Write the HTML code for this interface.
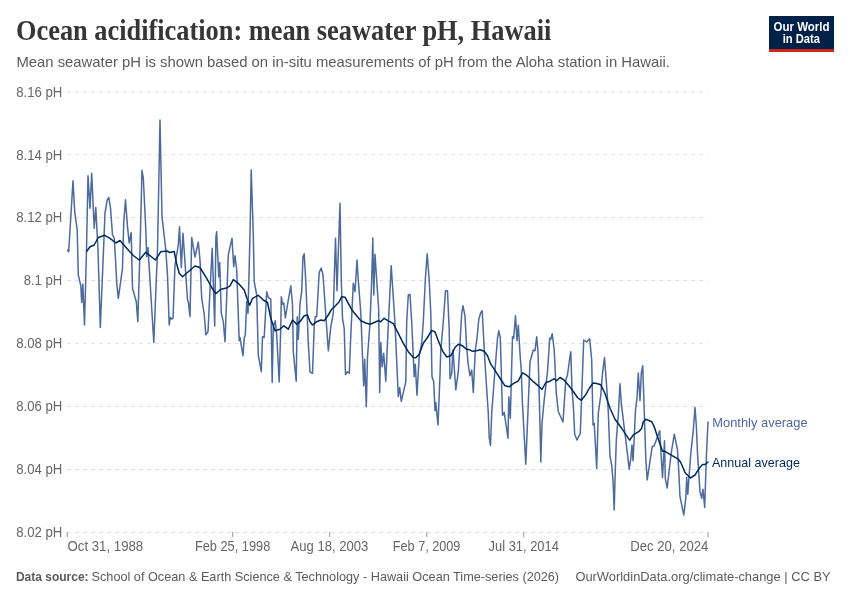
<!DOCTYPE html>
<html><head><meta charset="utf-8"><title>Ocean acidification: mean seawater pH, Hawaii</title>
<style>
html,body{margin:0;padding:0;background:#fff;}
body{width:850px;height:600px;overflow:hidden;}
svg{display:block;font-family:"Liberation Sans",sans-serif;will-change:transform;}
text{white-space:pre;}
</style></head><body>
<svg width="850" height="600" viewBox="0 0 850 600">
<rect width="850" height="600" fill="#ffffff"/>
<line x1="67.1" y1="92.0" x2="708" y2="92.0" stroke="#dedede" stroke-width="1" stroke-dasharray="4,4"/>
<line x1="67.1" y1="154.83" x2="708" y2="154.83" stroke="#dedede" stroke-width="1" stroke-dasharray="4,4"/>
<line x1="67.1" y1="217.6" x2="708" y2="217.6" stroke="#dedede" stroke-width="1" stroke-dasharray="4,4"/>
<line x1="67.1" y1="280.5" x2="708" y2="280.5" stroke="#dedede" stroke-width="1" stroke-dasharray="4,4"/>
<line x1="67.1" y1="343.4" x2="708" y2="343.4" stroke="#dedede" stroke-width="1" stroke-dasharray="4,4"/>
<line x1="67.1" y1="406.4" x2="708" y2="406.4" stroke="#dedede" stroke-width="1" stroke-dasharray="4,4"/>
<line x1="67.1" y1="469.5" x2="708" y2="469.5" stroke="#dedede" stroke-width="1" stroke-dasharray="4,4"/>
<line x1="67.1" y1="532.5" x2="708" y2="532.5" stroke="#dedede" stroke-width="1" stroke-dasharray="4,4"/>
<line x1="67.2" y1="532" x2="67.2" y2="537.2" stroke="#999999" stroke-width="1"/>
<line x1="232.7" y1="532" x2="232.7" y2="537.2" stroke="#999999" stroke-width="1"/>
<line x1="329.7" y1="532" x2="329.7" y2="537.2" stroke="#999999" stroke-width="1"/>
<line x1="426.8" y1="532" x2="426.8" y2="537.2" stroke="#999999" stroke-width="1"/>
<line x1="523.8" y1="532" x2="523.8" y2="537.2" stroke="#999999" stroke-width="1"/>
<line x1="708.0" y1="532" x2="708.0" y2="537.2" stroke="#999999" stroke-width="1"/>
<path d="M67.5,250.0 L68.7,251.7 L73.0,180.8 L74.7,211.7 L77.2,230.0 L78.3,275.0 L80.8,285.8 L81.7,302.5 L82.8,284.0 L84.5,325.0 L86.5,250.0 L88.0,175.8 L90.0,208.3 L91.7,173.3 L94.2,228.3 L95.8,207.5 L98.0,250.0 L100.3,327.5 L103.5,250.0 L105.0,213.0 L107.2,200.0 L108.8,197.5 L110.5,208.0 L112.5,235.0 L114.2,238.0 L115.3,255.0 L116.7,283.3 L118.3,298.3 L122.5,268.3 L123.7,223.0 L125.5,199.7 L127.5,226.7 L129.2,243.0 L131.2,232.5 L132.5,288.3 L136.3,301.7 L137.8,321.7 L140.0,250.0 L142.0,170.3 L143.3,178.0 L145.8,230.0 L146.7,256.7 L148.0,247.5 L153.8,342.5 L157.5,250.0 L160.0,120.0 L162.0,216.7 L165.8,250.0 L167.5,275.0 L169.2,325.0 L170.3,317.5 L171.7,319.0 L173.0,318.3 L175.0,265.0 L178.3,245.0 L179.5,226.7 L181.3,267.5 L183.0,233.3 L184.5,255.0 L187.5,300.0 L188.3,301.7 L190.0,316.7 L191.7,237.5 L195.0,257.0 L198.3,242.0 L200.0,260.0 L201.7,298.3 L204.2,314.0 L205.8,334.7 L208.0,331.7 L210.0,290.0 L212.2,248.3 L214.7,326.0 L215.9,237.0 L216.7,231.7 L217.2,245.0 L218.8,276.7 L219.7,262.5 L221.3,313.3 L223.3,321.7 L225.0,341.7 L228.3,255.0 L232.0,238.2 L233.7,266.7 L235.0,255.8 L236.7,270.0 L239.2,340.8 L240.0,337.5 L240.8,342.5 L243.0,355.8 L244.2,338.3 L245.3,335.0 L246.7,301.7 L248.0,313.3 L250.0,235.0 L251.2,170.0 L253.3,235.0 L254.2,281.7 L256.7,295.0 L258.3,355.0 L261.3,371.7 L262.5,336.7 L264.2,337.5 L266.7,291.7 L268.3,297.5 L270.8,299.2 L272.2,382.5 L273.3,326.7 L275.3,320.8 L276.7,335.0 L279.2,382.0 L280.8,326.7 L281.3,296.7 L282.5,304.2 L283.8,303.0 L285.3,318.0 L288.3,300.0 L290.8,285.8 L292.5,305.0 L293.3,351.7 L296.2,381.3 L297.2,316.7 L298.3,339.2 L299.5,315.0 L300.0,303.3 L301.7,291.7 L303.0,256.7 L304.2,253.7 L305.8,281.7 L308.3,343.3 L310.0,372.0 L312.5,373.3 L314.2,326.7 L315.3,316.7 L316.7,316.7 L319.2,272.5 L321.2,268.0 L323.0,275.0 L325.8,315.0 L328.3,350.8 L330.8,326.7 L333.3,313.3 L334.2,280.0 L335.5,238.3 L337.0,290.8 L340.0,203.3 L341.3,280.0 L342.5,318.3 L344.2,328.3 L345.5,374.7 L347.5,371.7 L349.3,373.3 L350.8,335.0 L353.3,283.3 L355.0,291.7 L357.0,260.0 L358.3,280.0 L360.8,313.3 L363.7,385.8 L364.7,359.2 L366.3,406.7 L367.5,356.7 L370.0,323.3 L371.7,280.0 L372.8,238.0 L373.8,295.0 L375.0,254.2 L376.7,280.0 L378.7,310.0 L379.7,392.5 L380.8,342.5 L382.2,366.7 L383.7,353.3 L385.8,381.3 L387.5,341.7 L391.2,265.8 L395.0,323.3 L398.3,396.7 L399.7,387.5 L401.3,401.3 L405.8,381.7 L406.7,321.7 L408.3,295.0 L410.0,294.2 L411.7,321.7 L414.2,376.7 L415.3,364.2 L417.0,395.3 L419.2,356.0 L421.7,343.3 L423.3,321.7 L425.3,280.0 L427.2,253.8 L429.2,280.0 L430.8,313.3 L432.0,376.7 L433.7,381.7 L435.0,410.8 L435.8,402.5 L438.0,425.0 L440.0,375.0 L440.8,350.0 L443.3,321.7 L445.5,290.8 L447.5,290.8 L449.2,330.0 L450.0,378.7 L451.7,373.3 L453.0,350.0 L455.8,390.0 L458.3,371.7 L460.0,343.3 L461.7,313.3 L463.0,305.8 L465.0,316.0 L466.7,348.3 L468.3,365.0 L470.0,375.8 L471.7,370.0 L473.3,392.5 L475.3,350.0 L477.0,338.3 L478.8,319.2 L480.8,312.5 L482.2,310.8 L483.3,331.7 L485.0,363.3 L488.3,413.3 L489.2,437.5 L490.5,445.3 L491.7,413.3 L495.0,370.0 L497.5,338.3 L498.8,330.8 L500.3,337.5 L502.5,415.3 L504.2,412.5 L508.0,438.3 L508.8,396.7 L510.3,418.3 L512.5,336.7 L513.7,338.3 L515.5,315.8 L517.0,340.8 L518.3,325.3 L520.0,353.3 L521.3,371.7 L522.5,405.0 L525.8,464.2 L530.0,361.7 L533.3,350.0 L535.0,350.8 L536.7,336.7 L538.0,351.7 L540.0,425.0 L540.8,462.0 L542.0,423.3 L544.2,400.0 L547.5,371.7 L549.7,338.3 L550.8,339.2 L552.2,333.7 L554.2,350.0 L556.3,393.3 L558.3,411.7 L563.0,422.0 L565.8,380.0 L567.5,375.0 L569.7,358.3 L570.8,351.7 L572.0,390.0 L573.3,405.0 L574.7,434.2 L577.0,440.0 L580.3,433.3 L583.7,340.0 L586.7,342.0 L589.7,338.7 L591.7,360.0 L593.0,425.0 L594.2,423.3 L596.7,468.3 L598.3,413.3 L600.8,395.0 L602.5,373.3 L604.5,357.5 L606.7,386.7 L608.3,411.7 L610.0,456.7 L611.7,465.0 L613.0,480.0 L614.2,510.0 L615.0,480.0 L616.3,440.0 L618.3,415.0 L620.0,383.7 L621.3,403.3 L623.7,423.3 L625.8,440.0 L629.2,469.2 L630.8,458.3 L632.0,445.0 L633.0,460.8 L634.2,438.3 L635.5,410.0 L637.0,398.3 L638.3,373.0 L640.0,400.8 L641.3,373.3 L642.7,365.8 L643.7,395.0 L645.8,458.3 L647.2,480.0 L649.2,466.7 L652.2,446.7 L654.2,445.8 L657.5,436.7 L659.7,430.8 L660.8,450.0 L662.5,477.5 L664.5,440.8 L665.3,478.3 L667.2,488.0 L669.2,470.0 L671.7,450.0 L674.3,434.2 L677.5,450.0 L678.8,471.7 L680.0,496.7 L683.8,515.0 L685.8,498.3 L686.7,477.5 L687.8,494.2 L688.8,480.0 L690.8,453.3 L693.3,430.0 L695.0,407.5 L696.3,425.0 L697.5,453.3 L700.0,491.7 L701.7,498.3 L703.0,489.2 L704.7,507.5 L706.3,458.3 L708.0,422.0" fill="none" stroke="#4c6a9c" stroke-width="1.5" stroke-linejoin="round" stroke-linecap="round"/>
<path d="M86.7,251.3 L90.0,246.7 L94.2,245.0 L98.3,237.5 L104.7,235.3 L110.0,238.3 L115.8,243.0 L120.0,240.5 L126.7,248.3 L133.3,255.5 L139.2,260.0 L145.8,252.3 L155.4,260.0 L160.8,251.7 L166.7,251.0 L170.0,252.5 L174.2,251.5 L176.7,264.0 L179.2,273.3 L182.5,276.7 L188.3,271.7 L195.0,266.0 L200.0,267.5 L206.7,278.3 L211.7,287.5 L215.8,293.7 L220.8,289.2 L226.7,288.0 L230.0,285.8 L233.3,279.7 L238.3,283.3 L244.2,290.0 L247.5,300.0 L249.7,305.3 L252.5,298.3 L258.3,295.3 L263.3,300.0 L267.5,302.5 L270.8,318.3 L275.0,330.8 L280.0,329.2 L283.8,325.8 L288.3,329.2 L292.5,320.0 L296.7,324.2 L300.0,321.7 L304.2,315.8 L307.5,315.0 L310.0,321.7 L312.5,325.0 L316.7,321.7 L320.8,320.0 L324.2,320.8 L328.3,315.0 L331.7,309.2 L335.0,306.2 L339.2,301.7 L341.7,296.7 L345.0,297.2 L348.3,303.3 L352.5,310.8 L356.7,315.8 L360.8,320.8 L365.8,323.0 L370.0,324.2 L374.2,322.5 L378.3,320.8 L380.8,321.7 L384.2,318.3 L388.3,320.8 L393.3,323.7 L398.3,333.3 L403.3,343.3 L408.3,351.7 L413.3,357.5 L415.8,357.8 L419.2,354.2 L423.3,343.3 L427.5,337.5 L431.7,330.3 L435.0,332.0 L438.3,340.8 L442.5,350.8 L446.7,357.0 L450.8,355.8 L455.0,347.5 L458.3,344.2 L462.5,345.8 L466.7,349.3 L469.2,349.7 L472.5,351.3 L476.7,350.8 L480.0,349.7 L484.2,351.3 L487.5,355.8 L490.8,364.2 L495.8,371.7 L500.8,379.5 L505.0,385.8 L509.2,386.8 L513.3,383.7 L518.3,380.8 L522.5,372.8 L525.8,374.7 L529.2,377.5 L533.3,381.7 L538.3,385.8 L542.0,389.5 L545.8,382.5 L550.0,381.2 L554.2,378.7 L556.7,380.8 L560.0,377.5 L564.2,380.2 L568.3,385.0 L571.7,389.2 L577.5,397.5 L581.2,400.3 L585.0,395.8 L589.2,388.5 L593.0,383.0 L596.7,383.5 L600.8,384.8 L605.0,393.5 L610.0,408.3 L615.0,419.2 L621.7,428.3 L626.7,435.8 L629.7,440.2 L633.3,434.8 L639.2,431.3 L641.7,428.3 L643.3,421.7 L645.8,419.2 L651.7,421.7 L654.2,426.7 L657.5,436.7 L662.5,451.3 L665.0,451.3 L671.7,455.3 L678.3,459.2 L680.8,462.5 L685.0,472.5 L690.3,478.0 L695.0,475.0 L699.2,468.3 L702.5,464.5 L705.0,464.5 L708.0,462.0" fill="none" stroke="#00295b" stroke-width="1.5" stroke-linejoin="round" stroke-linecap="round"/>
<text x="16.0" y="40.2" font-size="29" fill="#363636" textLength="535.3" lengthAdjust="spacingAndGlyphs" font-family="Liberation Serif" font-weight="bold">Ocean acidification: mean seawater pH, Hawaii</text>
<text x="16.4" y="66.6" font-size="15" fill="#5b5b5b" textLength="653.6" lengthAdjust="spacingAndGlyphs" >Mean seawater pH is shown based on in-situ measurements of pH from the Aloha station in Hawaii.</text>
<text x="16.2" y="96.8" font-size="14" fill="#666666" textLength="46.1" lengthAdjust="spacingAndGlyphs" >8.16 pH</text>
<text x="16.2" y="159.6" font-size="14" fill="#666666" textLength="46.1" lengthAdjust="spacingAndGlyphs" >8.14 pH</text>
<text x="16.2" y="222.4" font-size="14" fill="#666666" textLength="46.1" lengthAdjust="spacingAndGlyphs" >8.12 pH</text>
<text x="23.7" y="285.3" font-size="14" fill="#666666" textLength="38.6" lengthAdjust="spacingAndGlyphs" >8.1 pH</text>
<text x="16.2" y="348.2" font-size="14" fill="#666666" textLength="46.1" lengthAdjust="spacingAndGlyphs" >8.08 pH</text>
<text x="16.2" y="411.2" font-size="14" fill="#666666" textLength="46.1" lengthAdjust="spacingAndGlyphs" >8.06 pH</text>
<text x="16.2" y="474.3" font-size="14" fill="#666666" textLength="46.1" lengthAdjust="spacingAndGlyphs" >8.04 pH</text>
<text x="16.2" y="537.3" font-size="14" fill="#666666" textLength="46.1" lengthAdjust="spacingAndGlyphs" >8.02 pH</text>
<text x="67.5" y="550.8" font-size="14" fill="#666666" textLength="75.7" lengthAdjust="spacingAndGlyphs" >Oct 31, 1988</text>
<text x="194.9" y="550.8" font-size="14" fill="#666666" textLength="75.4" lengthAdjust="spacingAndGlyphs" >Feb 25, 1998</text>
<text x="290.6" y="550.8" font-size="14" fill="#666666" textLength="77.8" lengthAdjust="spacingAndGlyphs" >Aug 18, 2003</text>
<text x="392.8" y="550.8" font-size="14" fill="#666666" textLength="67.6" lengthAdjust="spacingAndGlyphs" >Feb 7, 2009</text>
<text x="488.6" y="550.8" font-size="14" fill="#666666" textLength="70.3" lengthAdjust="spacingAndGlyphs" >Jul 31, 2014</text>
<text x="630.2" y="550.8" font-size="14" fill="#666666" textLength="78.2" lengthAdjust="spacingAndGlyphs" >Dec 20, 2024</text>
<text x="712.3" y="426.8" font-size="12.8" fill="#4c6a9c" textLength="95.3" lengthAdjust="spacingAndGlyphs" >Monthly average</text>
<text x="712.0" y="466.5" font-size="12.8" fill="#00295b" textLength="87.9" lengthAdjust="spacingAndGlyphs" >Annual average</text>
<text x="15.9" y="581.2" font-size="13.2" fill="#5b5b5b" textLength="72.7" lengthAdjust="spacingAndGlyphs" font-weight="bold">Data source:</text>
<text x="91.5" y="581.2" font-size="13.2" fill="#5b5b5b" textLength="467.6" lengthAdjust="spacingAndGlyphs" >School of Ocean &amp; Earth Science &amp; Technology - Hawaii Ocean Time-series (2026)</text>
<text x="575.4" y="581.2" font-size="13.2" fill="#5b5b5b" textLength="255.2" lengthAdjust="spacingAndGlyphs" >OurWorldinData.org/climate-change | CC BY</text>
<rect x="769" y="16" width="65" height="33" fill="#002147"/><rect x="769" y="49" width="65" height="3" fill="#ce261e"/>
<text x="773.5" y="30.6" font-size="12" fill="#ffffff" textLength="56.0" lengthAdjust="spacingAndGlyphs" font-weight="bold">Our World</text>
<text x="782.7" y="42.9" font-size="12" fill="#ffffff" textLength="37.4" lengthAdjust="spacingAndGlyphs" font-weight="bold">in Data</text>
</svg>
</body></html>
